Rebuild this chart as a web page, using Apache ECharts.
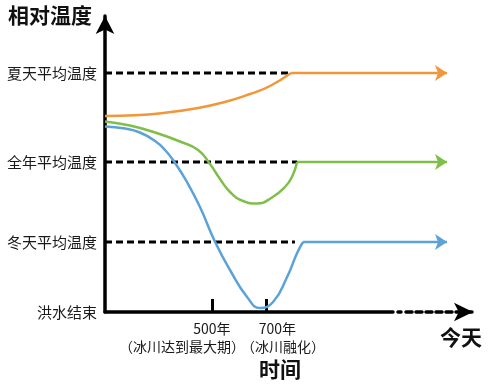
<!DOCTYPE html>
<html><head><meta charset="utf-8">
<script src="https://cdn.jsdelivr.net/npm/echarts@6/dist/echarts.min.js"></script>
<style>html,body{margin:0;padding:0;background:#fff}#c{width:491px;height:385px}</style>
</head><body><div id="c"></div>
<script>
// y levels (relative temperature) and their labels
const yLevelValues = [0, 70, 150, 239];
const yLevelLabels = ['洪水结束', '冬天平均温度', '全年平均温度', '夏天平均温度'];
// x ticks (years)
const xTickYears = [500, 700];
const xTickLabels = ['500年', '700年'];
const xTickNotes = ['（冰川达到最大期）', '（冰川融化）'];

// curves: [year, relative temperature]
const summerCurve = [[105,196],[216,196.7],[327,199.2],[438,203.5],[548,210],[641,218],[715,226],[792,239]];
const annualCurve = [[105,190.5],[197,186.5],[290,179.5],[382,170.5],[449,162],[493,148],[530,133],[567,120],[615,111],[667,108.5],[722,114.5],[770,125],[796,135],[815,150]];
const winterCurve = [[105,185.5],[179,183.5],[234,179.5],[290,171],[327,162],[364,149],[408,130],[456,105],[512,70],[567,42],[630,15],[678,4],[726,10],[778,35],[815,59],[837,70]];
// flat continuation to today
const todayYear = 1369;
// dashed reference line ends: summer, annual, winter
const refLineEnds = [792, 815, 807];
const refLineLevels = [239, 150, 70];

const FONT = '"Noto Sans CJK SC","Microsoft YaHei",sans-serif';
const colors = {summer:'#F2963A', annual:'#80BE4A', winter:'#5BA3D6'};

function curveSeries(data, color){
  return {type:'line', data:data, smooth:0.5, symbol:'none', lineStyle:{color:color, width:2.5}, z:4, silent:true};
}
function flatSeries(curve, color){
  const last = curve[curve.length-1];
  return {type:'line', data:[{value:[last[0], last[1]], symbol:'none'}, [todayYear, last[1]]],
    symbol:'arrow', symbolSize:[12,12], symbolRotate:-90, showSymbol:true,
    lineStyle:{color:color, width:2.5}, itemStyle:{color:color}, z:4, silent:true};
}
const dashSeries = refLineLevels.map((lv,i)=>({
  type:'line', data:[[105,lv],[refLineEnds[i],lv]], symbol:'none',
  lineStyle:{color:'#000', width:3, type:[7,4]}, z:2, silent:true
}));

const xDash = [288,5,3,5,6,4,6,4,6,4,6,4,6,4,6,4,6,4,6,4,6,4,200,10];

const labelRich = {
  a:{fontSize:14, lineHeight:18, align:'center', fontFamily:FONT, color:'#1a1a1a'},
  b:{fontSize:14, lineHeight:18, align:'left', padding:[0,60,0,0], fontFamily:FONT, color:'#1a1a1a'},
  c:{fontSize:14, lineHeight:18, align:'right', padding:[0,29,0,0], fontFamily:FONT, color:'#1a1a1a'},
  d:{fontSize:14, lineHeight:18, align:'left', padding:[0,0,0,34], fontFamily:FONT, color:'#1a1a1a'}
};
function tickAxis(i, withLine){
  const ax = {
    type:'value', min:105, max:1465, position:'bottom',
    axisLine:{show:withLine, symbol:['none','arrow'], symbolSize:[14,19], lineStyle:{color:'#000', width:3.5, type:xDash}},
    axisTick:{show:true, customValues:[xTickYears[i]], inside:true, length:13, lineStyle:{color:'#000', width:3}},
    splitLine:{show:false},
    axisLabel:{
      customValues:[xTickYears[i]], margin:8, color:'#1a1a1a', fontFamily:FONT,
      formatter: i === 0
        ? function(){ return '{a|' + xTickLabels[0] + '}\n{b|' + xTickNotes[0] + '}'; }
        : function(){ return '{c|' + xTickLabels[1] + '}\n{d|' + xTickNotes[1] + '}'; },
      rich:labelRich
    }
  };
  if (withLine) {
    ax.name = '时间'; ax.nameLocation = 'middle'; ax.nameGap = 46;
    ax.nameTextStyle = {fontSize:21, fontWeight:'bold', color:'#111', fontFamily:FONT, padding:[0,18,0,0]};
  }
  return ax;
}

const chart = echarts.init(document.getElementById('c'));
chart.setOption({
  animation:false,
  textStyle:{fontFamily:FONT},
  grid:{left:105, right:18, top:16, bottom:73},
  xAxis:[tickAxis(0, true), tickAxis(1, false)],
  yAxis:{
    type:'value', min:0, max:296,
    axisLine:{show:true, symbol:['none','arrow'], symbolSize:[14,18], lineStyle:{color:'#000', width:3.5}},
    axisTick:{show:false},
    splitLine:{show:false},
    axisLabel:{customValues:yLevelValues, margin:8, fontSize:15, color:'#1a1a1a', fontFamily:FONT,
      formatter:function(v){ return yLevelLabels[yLevelValues.indexOf(v)]; }},
    name:'相对温度', nameLocation:'end', nameGap:1,
    nameTextStyle:{fontSize:21, fontWeight:'bold', color:'#111', fontFamily:FONT, align:'right', verticalAlign:'middle', padding:[0,13,0,0]}
  },
  graphic:[{type:'text', left:440, top:327, style:{text:'今天', font:'bold 21px ' + FONT, fill:'#111'}}],
  series:[].concat(dashSeries, [
    curveSeries(summerCurve, colors.summer), flatSeries(summerCurve, colors.summer),
    curveSeries(annualCurve, colors.annual), flatSeries(annualCurve, colors.annual),
    curveSeries(winterCurve, colors.winter), flatSeries(winterCurve, colors.winter)
  ])
});
</script></body></html>
